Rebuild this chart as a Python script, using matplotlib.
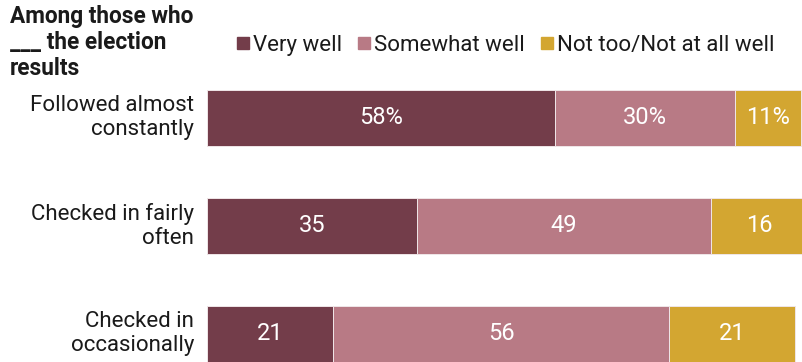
import matplotlib.pyplot as plt
from matplotlib.patches import Rectangle

categories = ["Followed almost\nconstantly", "Checked in fairly\noften", "Checked in\noccasionally"]
series_names = ["Very well", "Somewhat well", "Not too/Not at all well"]
very_well = [58, 35, 21]
somewhat_well = [30, 49, 56]
not_well = [11, 16, 21]
colors = ["#733D4A", "#B87A85", "#D3A631"]

plt.rcParams["font.family"] = ["Roboto", "DejaVu Sans"]

W, H, DPI = 803, 362, 100
fig = plt.figure(figsize=(W / DPI, H / DPI), dpi=DPI)

# axes geometry in pixels: bars start at x=207, 6 px per point, rows 108 px apart
left_px, unit_px = 207, 6.0
row_px, first_center = 108.0, 117.7
ax_top = first_center - row_px / 2
ax_h = row_px * 3
ax = fig.add_axes([left_px / W, 1 - (ax_top + ax_h) / H, 100 * unit_px / W, ax_h / H])
ax.set_xlim(0, 100)
ax.set_ylim(2.5, -0.5)
ax.axis("off")

series = [very_well, somewhat_well, not_well]
ypos = list(range(len(categories)))
lefts = [0] * len(categories)
for s_i, vals in enumerate(series):
    ax.barh(ypos, vals, left=lefts, height=0.52, color=colors[s_i],
            edgecolor="#EFE6E8", linewidth=0.7)
    for r, v in enumerate(vals):
        label = f"{v}%" if r == 0 else f"{v}"
        ax.text(lefts[r] + v / 2, r, label, ha="center", va="center",
                color="white", fontsize=17)
    lefts = [l + v for l, v in zip(lefts, vals)]

# category labels
for r, cat in enumerate(categories):
    ax.text(-13 / unit_px, r, cat, ha="right", va="center", fontsize=16,
            color="#1a1a1a", linespacing=1.2, transform=ax.transData, clip_on=False)

# heading
fig.text(10 / W, 1 - 5 / H, "Among those who\n___ the election\nresults", ha="left", va="top",
         fontsize=16.3, fontweight="bold", color="#1a1a1a", linespacing=1.18)

# legend drawn as square markers followed by labels
fig.canvas.draw()
renderer = fig.canvas.get_renderer()
x = 237
y_mid = 43
sq = 12
for name, c in zip(series_names, colors):
    fig.patches.append(Rectangle((x / W, 1 - (y_mid + sq / 2) / H), sq / W, sq / H,
                                 transform=fig.transFigure, color=c, figure=fig))
    t = fig.text((x + sq + 4) / W, 1 - y_mid / H, name, ha="left", va="center_baseline",
                 fontsize=16, color="#1a1a1a")
    bb = t.get_window_extent(renderer)
    x = bb.x1 + 16

fig.savefig("out.png", dpi=DPI)
